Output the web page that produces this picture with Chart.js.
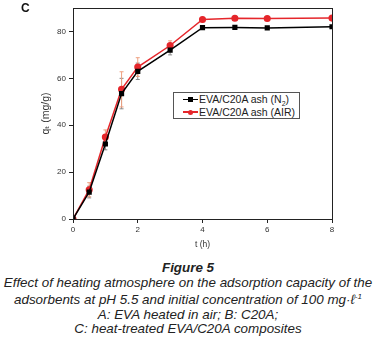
<!DOCTYPE html>
<html lang="en">
<head>
  <meta charset="UTF-8" />
  <title>Figure 5</title>
  <script src="https://cdn.jsdelivr.net/npm/chart.js"></script>
  <style>
    body { margin: 0; background: #fff; width: 376px; height: 339px; position: relative; overflow: hidden; font-family: "Liberation Sans", Arial, sans-serif; }
    #wrap { position: absolute; left: 0; top: 0; width: 376px; height: 250px; }
    #panel { position: absolute; left: 21px; top: 1px; font-size: 12px; font-weight: bold; color: #111; }
    #legend { position: absolute; left: 173px; top: 92px; width: 125px; height: 25px; border: 1px solid #555; background: #fff; font-size: 10.5px; color: #222; }
    .item { position: absolute; left: 9px; height: 12.5px; line-height: 12.5px; white-space: nowrap; }
    .item .ln { display: inline-block; position: relative; width: 15px; height: 12px; vertical-align: top; margin-right: 1px; }
    .item .ln i { position: absolute; left: 0; top: 5.5px; width: 15px; height: 1.5px; }
    .item .ln b { position: absolute; left: 5px; top: 4px; width: 5px; height: 5px; }
    #caption { position: absolute; left: 0; top: 261px; width: 376px; text-align: center; font-style: italic; font-size: 13.4px; line-height: 14.5px; color: #222; }
    #caption .fig { font-weight: bold; }
  </style>
</head>
<body>
  <div id="wrap"><canvas id="c" width="376" height="250"></canvas></div>
  <div id="panel">C</div>
  <div id="legend">
    <div class="item" style="top:0px"><span class="ln"><i style="background:#000"></i><b style="background:#000"></b></span>EVA/C20A ash (N<sub style="font-size:7px">2</sub>)</div>
    <div class="item" style="top:12.5px"><span class="ln"><i style="background:#e5262b"></i><b style="background:#e5262b;border-radius:50%"></b></span>EVA/C20A ash (AIR)</div>
  </div>
  <div id="caption">
    <div class="fig">Figure 5</div>
    <div>Effect of heating atmosphere on the adsorption capacity of the</div>
    <div>adsorbents at pH 5.5 and initial concentration of 100 mg·ℓ<sup style="font-size:8px">-1</sup></div>
    <div>A: EVA heated in air; B: C20A;</div>
    <div>C: heat-treated EVA/C20A composites</div>
  </div>

  <script>
    // data
    const times = [0, 0.5, 1, 1.5, 2, 3, 4, 5, 6, 8];
    const qN2 = [0, 11.5, 32, 53.5, 63, 72, 81.6, 81.7, 81.5, 82];
    const qAir = [0, 12.5, 35, 55.3, 64.8, 74, 85.1, 85.6, 85.5, 85.7];
    const errN2 = [0, 2.5, 2.5, 6.5, 3.5, 2, 0, 0, 0, 0];
    const errAir = [0, 3, 3, 7.5, 4, 2, 0, 0, 0, 0];
    const xTicks = [0, 2, 4, 6, 8];
    const yTicks = [0, 20, 40, 60, 80];

    const errorBars = {
      id: "errorBars",
      beforeDatasetsDraw(chart) {
        const ctx = chart.ctx;
        const x = chart.scales.x, y = chart.scales.y;
        const sets = [[qN2, errN2, "#8a8a8a"], [qAir, errAir, "#eea080"]];
        ctx.save();
        ctx.lineWidth = 1;
        sets.forEach(([vals, errs, col]) => {
          ctx.strokeStyle = col;
          vals.forEach((v, i) => {
            if (!errs[i]) return;
            const px = x.getPixelForValue(times[i]);
            const top = y.getPixelForValue(v + errs[i]);
            const bot = y.getPixelForValue(v - errs[i]);
            ctx.beginPath();
            ctx.moveTo(px, top); ctx.lineTo(px, bot);
            ctx.moveTo(px - 2, top); ctx.lineTo(px + 2, top);
            ctx.moveTo(px - 2, bot); ctx.lineTo(px + 2, bot);
            ctx.stroke();
          });
        });
        ctx.restore();
      },
      afterDraw(chart) {
        const a = chart.chartArea, ctx = chart.ctx;
        ctx.save();
        ctx.strokeStyle = "#222";
        ctx.lineWidth = 1;
        ctx.strokeRect(a.left + 0.5, a.top + 0.5, a.right - a.left, a.bottom - a.top);
        ctx.restore();
      }
    };

    new Chart(document.getElementById("c"), {
      type: "line",
      data: {
        datasets: [
          {
            label: "EVA/C20A ash (N2)",
            data: times.map((t, i) => ({ x: t, y: qN2[i] })),
            borderColor: "#000",
            backgroundColor: "#000",
            borderWidth: 1.5,
            pointStyle: "rect",
            pointRadius: 2.6,
            tension: 0
          },
          {
            label: "EVA/C20A ash (AIR)",
            data: times.map((t, i) => ({ x: t, y: qAir[i] })),
            borderColor: "#e5262b",
            backgroundColor: "#e5262b",
            borderWidth: 1.5,
            pointStyle: "circle",
            pointRadius: 2.8,
            tension: 0
          }
        ]
      },
      options: {
        responsive: false,
        animation: false,
        layout: { padding: { top: 8, right: 44, left: 0, bottom: 0 } },
        plugins: { legend: { display: false }, tooltip: { enabled: false } },
        scales: {
          x: {
            type: "linear",
            min: 0, max: 8,
            afterBuildTicks: s => { s.ticks = xTicks.map(v => ({ value: v })); },
            afterFit: s => { s.height = 31; },
            grid: { display: true, drawOnChartArea: false, drawTicks: true, tickLength: 4, color: "#222" },
            border: { display: true, color: "#222", width: 1 },
            ticks: { color: "#333", font: { family: "Liberation Sans", size: 8 }, padding: 2, maxRotation: 0 },
            title: { display: true, text: "t (h)", color: "#333", font: { family: "Liberation Sans", size: 8.5 }, padding: { top: 0, bottom: 0 } }
          },
          y: {
            min: 0, max: 90,
            afterBuildTicks: s => { s.ticks = yTicks.map(v => ({ value: v })); },
            afterFit: s => { s.width = 73; },
            grid: { display: true, drawOnChartArea: false, drawTicks: true, tickLength: 4, color: "#222" },
            border: { display: true, color: "#222", width: 1 },
            ticks: { color: "#333", font: { family: "Liberation Sans", size: 8 }, padding: 3 },
            title: { display: true, text: "qₜ (mg/g)", color: "#333", font: { family: "Liberation Sans, DejaVu Sans", size: 10.5 }, padding: { top: 40, bottom: 0 } }
          }
        }
      },
      plugins: [errorBars]
    });
  </script>
</body>
</html>
